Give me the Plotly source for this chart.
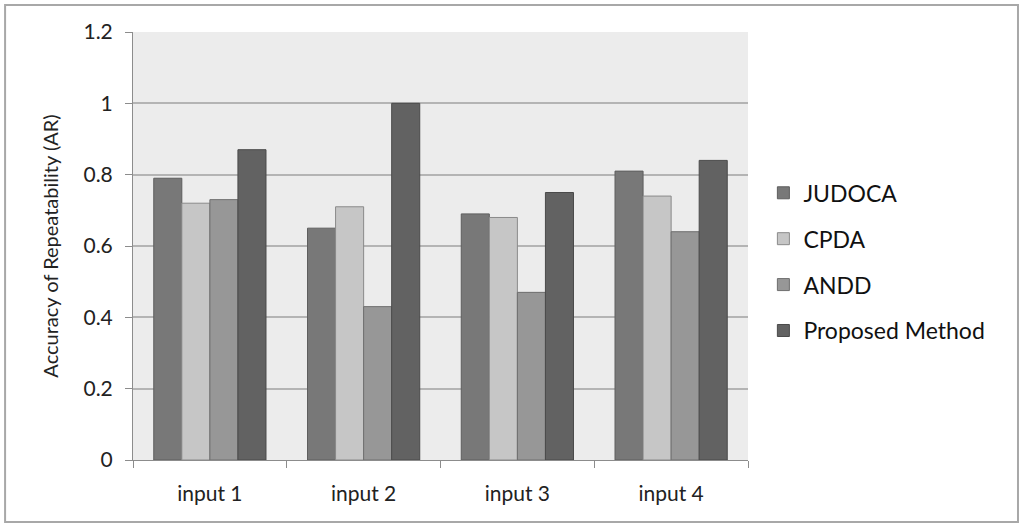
import plotly.graph_objects as go

# ---- data
categories = ["input 1", "input 2", "input 3", "input 4"]
series_names = ["JUDOCA", "CPDA", "ANDD", "Proposed Method"]
judoca = [0.79, 0.65, 0.69, 0.81]
cpda = [0.72, 0.71, 0.68, 0.74]
andd = [0.73, 0.43, 0.47, 0.64]
proposed = [0.87, 1.00, 0.75, 0.84]
y_ticks = [0, 0.2, 0.4, 0.6, 0.8, 1, 1.2]

series_values = [judoca, cpda, andd, proposed]
fill_colors = ["#787878", "#c6c6c6", "#979797", "#626262"]
edge_colors = ["#5e5e5e", "#8a8a8a", "#6e6e6e", "#4a4a4a"]

font_family = "Lato, 'Open Sans', sans-serif"

fig = go.Figure()
for name, vals, fc, ec in zip(series_names, series_values, fill_colors, edge_colors):
    fig.add_trace(
        go.Bar(
            x=categories,
            y=vals,
            name=name,
            legendgroup=name,
            marker=dict(color=fc, line=dict(color=ec, width=1)),
        )
    )

fig.update_layout(
    width=1024,
    height=528,
    barmode="group",
    bargap=0.27,
    bargroupgap=0,
    paper_bgcolor="white",
    plot_bgcolor="#ececec",
    font=dict(family=font_family, size=21, color="#222222"),
    margin=dict(l=133, r=276, t=32, b=68, pad=0),
    showlegend=True,
    legend=dict(
        x=1.025,
        y=0.463,
        xanchor="left",
        yanchor="middle",
        font=dict(size=23, color="#111111"),
        tracegroupgap=13,
        itemwidth=30,
        bgcolor="rgba(0,0,0,0)",
    ),
    shapes=[
        dict(
            type="rect",
            xref="paper",
            yref="paper",
            x0=-0.208,
            x1=1.439,
            y0=-0.145,
            y1=1.063,
            line=dict(color="#a8a8a8", width=2),
            fillcolor="rgba(0,0,0,0)",
            layer="below",
        )
    ],
)

fig.update_xaxes(
    showline=True,
    linecolor="#8c8c8c",
    linewidth=1,
    ticks="outside",
    tickson="boundaries",
    ticklen=7,
    tickcolor="#8c8c8c",
    ticklabelstandoff=15,
    showgrid=False,
    tickfont=dict(size=21),
)

fig.update_yaxes(
    range=[0, 1.2],
    tickvals=y_ticks,
    ticktext=[f"{v:g}" for v in y_ticks],
    showline=True,
    linecolor="#8c8c8c",
    linewidth=1,
    ticks="outside",
    ticklen=7,
    tickcolor="#8c8c8c",
    showgrid=True,
    gridcolor="#b4b4b4",
    gridwidth=1.5,
    zeroline=False,
    tickfont=dict(size=21),
    ticklabelstandoff=8,
    title=dict(text="Accuracy of Repeatability (AR)", font=dict(size=20), standoff=19),
)

fig.write_html(
    "out.html",
    config={"displayModeBar": False},
    post_script="document.body.style.margin='0';document.body.style.overflow='hidden';",
)
